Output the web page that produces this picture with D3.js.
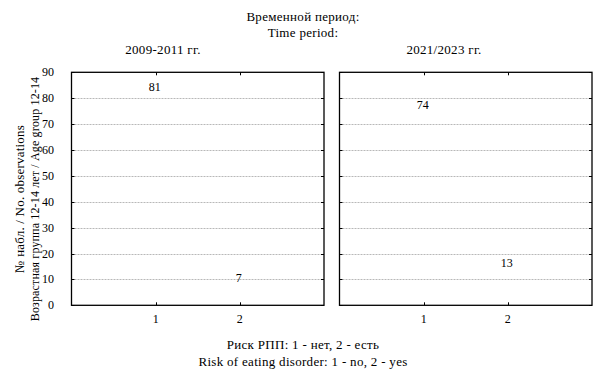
<!DOCTYPE html>
<html><head><meta charset="utf-8">
<script src="https://cdn.jsdelivr.net/npm/d3@7"></script>
<style>
body{margin:0;background:#fff;}
text{font-family:"Liberation Serif","Times New Roman",serif;font-size:12px;fill:#000;}
text.t{font-size:13px;letter-spacing:0.3px;}
</style></head>
<body><svg id="c" width="605" height="378"></svg>
<script>
const periods = ["2009-2011 гг.", "2021/2023 гг."];
const categories = [1, 2];
const counts2009 = [81, 7];
const counts2021 = [74, 13];
const yTicks = [0,10,20,30,40,50,60,70,80,90];
const seriesCounts = [counts2009, counts2021];

(function(){
const svg = d3.select("#c");
const plotTop = 72.3, plotBottom = 305.3;
const panelX = [[71.5, 324], [339.5, 592]];
const titleCenters = [163, 444];
const y = d3.scaleLinear().domain([0, 90]).range([plotBottom, plotTop]);

svg.append("text").attr("class","t").attr("x", 303).attr("y", 21).attr("text-anchor","middle").text("Временной период:");
svg.append("text").attr("class","t").attr("x", 303).attr("y", 37).attr("text-anchor","middle").text("Time period:");

periods.forEach((p, i) => {
  const [x0, x1] = panelX[i];
  const x = d3.scaleLinear().domain([0, 3]).range([x0, x1]);
  const g = svg.append("g");
  svg.append("text").attr("class","t").attr("x", titleCenters[i]).attr("y", 54).attr("text-anchor","middle").text(p);
  g.selectAll("line.grid").data(yTicks.filter(t => t > 0 && t < 90)).enter().append("line")
    .attr("x1", x0).attr("x2", x1).attr("y1", d => Math.round(y(d))+0.5).attr("y2", d => Math.round(y(d))+0.5)
    .attr("stroke", "#b8b8b8").attr("stroke-dasharray", "2,1");
  yTicks.forEach(t => {
    const yy = Math.round(y(t))+0.5;
    g.append("line").attr("x1", x0).attr("x2", x0+3).attr("y1", yy).attr("y2", yy).attr("stroke","#000");
    g.append("line").attr("x1", x1-3).attr("x2", x1).attr("y1", yy).attr("y2", yy).attr("stroke","#000");
  });
  categories.forEach(c => {
    const xx = Math.round(x(c))+0.5;
    g.append("line").attr("x1", xx).attr("x2", xx).attr("y1", plotTop).attr("y2", plotTop+3).attr("stroke","#000");
    g.append("line").attr("x1", xx).attr("x2", xx).attr("y1", plotBottom-3).attr("y2", plotBottom).attr("stroke","#000");
    svg.append("text").attr("x", x(c)).attr("y", 323).attr("text-anchor","middle").text(c);
  });
  g.append("rect").attr("x", x0).attr("y", plotTop).attr("width", x1-x0).attr("height", plotBottom-plotTop)
    .attr("fill","none").attr("stroke","#000").attr("stroke-width",1.3);
  g.selectAll("text.v").data(seriesCounts[i]).enter().append("text")
    .attr("x", (d, j) => x(categories[j]) - 1).attr("y", d => y(d) - 5)
    .attr("text-anchor","middle").text(d => d);
  if (i === 0) {
    yTicks.forEach(t => {
      svg.append("text").attr("x", 54).attr("y", y(t)+4).attr("text-anchor","end").text(t);
    });
  }
});

svg.append("text").attr("transform","translate(24,199) rotate(-90)").attr("text-anchor","middle")
  .style("font-size","13px").style("letter-spacing","0.2px").text("№ набл. / No. observations");
svg.append("text").attr("transform","translate(39,199) rotate(-90)").attr("text-anchor","middle")
  .style("letter-spacing","0.15px").text("Возрастная группа 12-14 лет / Age group 12-14");

svg.append("text").attr("class","t").attr("x", 303).attr("y", 349).attr("text-anchor","middle").text("Риск РПП: 1 - нет, 2 - есть");
svg.append("text").attr("class","t").attr("x", 303).attr("y", 366).attr("text-anchor","middle").text("Risk of eating disorder: 1 - no, 2 - yes");
})();
</script></body></html>
